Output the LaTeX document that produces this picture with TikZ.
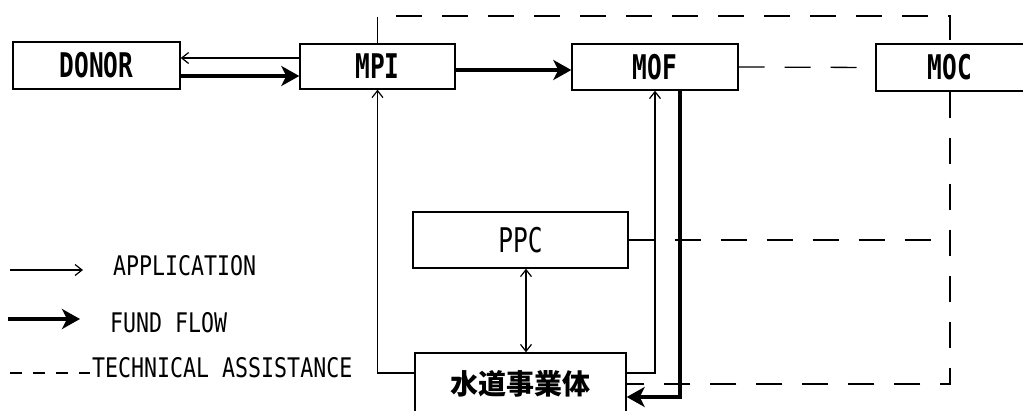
\documentclass[tikz,border=0pt]{standalone}
\usepackage{fontspec}
\usetikzlibrary{arrows.meta,calc}
\newfontfamily\lgdfont[FakeStretch=0.8]{DejaVu Sans Mono}
\newfontfamily\boxfont[FakeStretch=0.72]{DejaVu Sans Mono}
\newfontfamily\cjkfont{Noto Sans CJK JP}
\begin{document}
\begin{tikzpicture}[x=1pt,y=-1pt,
  box/.style={draw, line width=1.4pt, inner sep=0pt, font=\boxfont\fontsize{34}{34}\selectfont\bfseries},
  app/.style={line width=1.2pt, -{Straight Barb[length=7pt,width=11pt]}},
  appboth/.style={line width=1.2pt, {Straight Barb[length=7pt,width=11pt]}-{Straight Barb[length=7pt,width=11pt]}},
  fund/.style={line width=4pt, -{Stealth[length=18pt,width=20pt,inset=5pt]}},
  ta/.style={line width=1.3pt, dash pattern=on 26pt off 20pt},
  lgd/.style={anchor=base west, inner sep=0pt, font=\lgdfont\fontsize{27}{27}\selectfont}]
\useasboundingbox (0,0) rectangle (1023,410);
% boxes
\node[box, minimum width=167pt, minimum height=47pt] (donor) at (96.5,65.5) {DONOR};
\node[box, minimum width=155pt, minimum height=45pt] (mpi) at (377.5,66.5) {MPI};
\node[box, minimum width=166pt, minimum height=46pt] (mof) at (655,67) {MOF};
\node[box, minimum width=148pt, minimum height=47pt] (moc) at (950,67.5) {MOC};
\node[box, minimum width=215pt, minimum height=56pt, font=\boxfont\fontsize{34}{34}\selectfont] (ppc) at (520.5,240) {PPC};
\node[box, minimum width=211pt, minimum height=62pt, font=\cjkfont\fontsize{28}{28}\selectfont\bfseries] (suido) at (520.5,384) {水道事業体};
\coordinate (top) at (0,16);
% connectors
\draw[fund] ([yshift=-10.5pt]donor.east) -- ([yshift=-10.5pt]donor.east -| mpi.west);
\draw[app] ([yshift=8.5pt]mpi.west) -- ([yshift=8.5pt]mpi.west -| donor.east);
\draw[fund] ([yshift=-3.5pt]mpi.east) -- ([yshift=-3.5pt]mpi.east -| mof.west);
\draw[ta] (mof.east) -- (moc.west);
\draw[ta] (mpi.north) -- (mpi.north |- top) -| (moc.north);
\draw[app] ([yshift=11pt]suido.west) -| (mpi.south);
\draw[app] ([yshift=11pt]suido.east) -| (mof.south);
\draw[fund] ([xshift=25pt]mof.south) |- ([yshift=-13pt]suido.east);
\draw[appboth] ([xshift=5.5pt]ppc.south) -- ([xshift=5.5pt]suido.north);
\draw[ta] (moc.south) |- (suido.east);
\draw[ta] (ppc.east) -- (ppc.east -| moc.south);
% legend
\coordinate (la1) at (10,270); \coordinate (la2) at (83,270);
\coordinate (lf1) at (8,319); \coordinate (lf2) at (80,319);
\coordinate (lt1) at (10,373); \coordinate (lt2) at (90,373);
\draw[app] (la1) -- (la2);
\draw[fund] (lf1) -- (lf2);
\draw[line width=1.3pt, dash pattern=on 12pt off 11pt] (lt1) -- (lt2);
\node[lgd] (tapp) at (113,275) {APPLICATION};
\node[lgd] (tfund) at (110,332) {FUND FLOW};
\node[lgd] (tta) at (92,377) {TECHNICAL ASSISTANCE};
\end{tikzpicture}
\end{document}
